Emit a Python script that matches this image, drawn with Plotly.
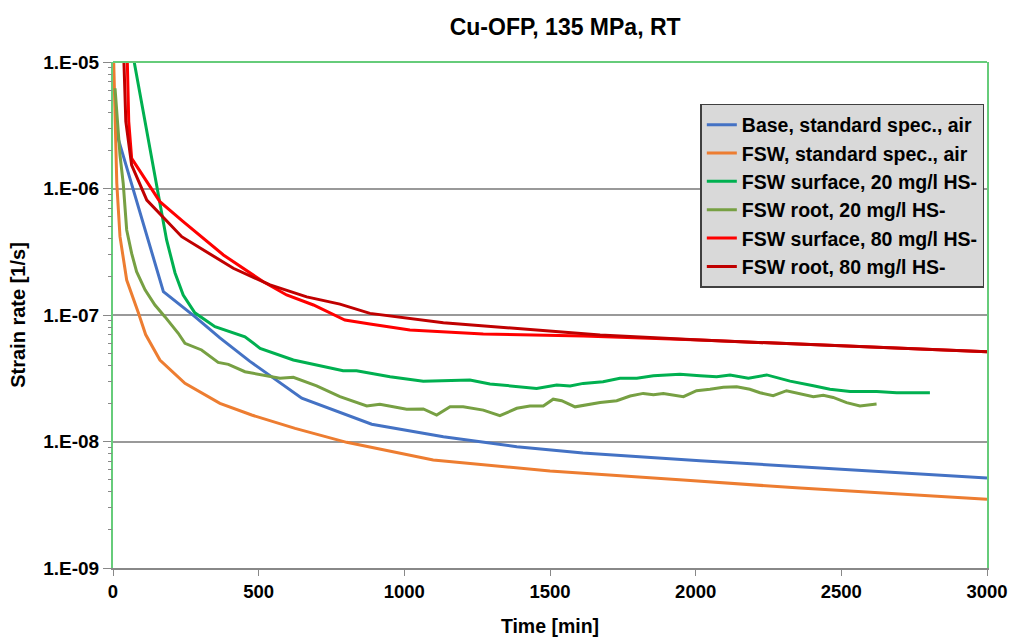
import plotly.graph_objects as go

# ---- data (time in min, strain rate in 1/s) ----
base_t = [13, 173, 281, 367, 470, 648, 888, 1134, 1386, 1613, 2015, 2500, 3000]
base_v = [2.7e-6, 1.53e-7, 9.7e-8, 6.6e-8, 4.3e-8, 2.2e-8, 1.37e-8, 1.09e-8, 9.1e-9, 8.1e-9, 7.05e-9, 6.0e-9, 5.15e-9]

fsw_t = [2, 9, 13, 24, 47, 87, 112, 161, 247, 367, 476, 625, 802, 1099, 1500, 1957, 2358, 3000]
fsw_v = [1.1e-5, 2.65e-6, 1.1e-6, 4.16e-7, 1.89e-7, 1.04e-7, 7.0e-8, 4.4e-8, 2.88e-8, 2.0e-8,
         1.62e-8, 1.27e-8, 9.85e-9, 7.15e-9, 5.85e-9, 4.96e-9, 4.28e-9, 3.49e-9]

surf20_t = [60, 150, 167, 184, 213, 241, 281, 350, 453, 505, 619, 790, 836, 951, 1065, 1225, 1294,
            1454, 1523, 1569, 1614, 1682, 1740, 1798, 1855, 1946, 2015, 2072, 2118, 2181, 2244,
            2324, 2404, 2461, 2530, 2621, 2690, 2804]
surf20_v = [1.45e-5, 1.10e-6, 6.4e-7, 3.92e-7, 2.15e-7, 1.44e-7, 1.04e-7, 8.08e-8, 6.73e-8, 5.45e-8,
            4.41e-8, 3.63e-8, 3.63e-8, 3.25e-8, 3.0e-8, 3.06e-8, 2.85e-8, 2.63e-8, 2.8e-8, 2.75e-8,
            2.88e-8, 2.97e-8, 3.16e-8, 3.16e-8, 3.31e-8, 3.4e-8, 3.31e-8, 3.25e-8, 3.36e-8, 3.16e-8,
            3.36e-8, 3.0e-8, 2.76e-8, 2.59e-8, 2.48e-8, 2.48e-8, 2.43e-8, 2.43e-8]

root20_t = [7, 24, 35, 47, 64, 81, 110, 144, 178, 224, 247, 304, 361, 396, 453, 510, 573, 619, 699,
            779, 871, 916, 1008, 1065, 1111, 1157, 1202, 1271, 1328, 1386, 1431, 1477, 1511, 1540,
            1586, 1672, 1729, 1775, 1820, 1855, 1889, 1958, 2003, 2049, 2095, 2141, 2186, 2221,
            2266, 2312, 2358, 2404, 2438, 2472, 2518, 2564, 2621]
root20_v = [6.2e-6, 1.84e-6, 1.10e-6, 4.7e-7, 3.07e-7, 2.2e-7, 1.58e-7, 1.2e-7, 9.7e-8, 7.17e-8,
            5.97e-8, 5.29e-8, 4.22e-8, 4.07e-8, 3.56e-8, 3.36e-8, 3.16e-8, 3.22e-8, 2.75e-8,
            2.26e-8, 1.91e-8, 1.97e-8, 1.80e-8, 1.81e-8, 1.62e-8, 1.88e-8, 1.88e-8, 1.77e-8,
            1.6e-8, 1.83e-8, 1.91e-8, 1.91e-8, 2.16e-8, 2.1e-8, 1.88e-8, 2.03e-8, 2.1e-8, 2.29e-8,
            2.4e-8, 2.34e-8, 2.4e-8, 2.26e-8, 2.52e-8, 2.59e-8, 2.68e-8, 2.71e-8, 2.59e-8, 2.43e-8,
            2.3e-8, 2.52e-8, 2.4e-8, 2.26e-8, 2.32e-8, 2.23e-8, 2.03e-8, 1.91e-8, 1.98e-8]

surf80_t = [48, 54, 64, 161, 241, 379, 516, 596, 688, 796, 882, 1019, 1271, 1614, 2015, 3000]
surf80_v = [1.3e-5, 3.4e-6, 1.73e-6, 7.87e-7, 5.47e-7, 2.98e-7, 1.83e-7, 1.44e-7, 1.2e-7, 9.12e-8,
            8.49e-8, 7.6e-8, 7.08e-8, 6.83e-8, 6.34e-8, 5.13e-8]

root80_t = [36, 44, 64, 116, 236, 413, 539, 665, 779, 882, 1134, 1386, 1672, 2015, 3000]
root80_v = [1.3e-5, 3.4e-6, 1.53e-6, 8.1e-7, 4.16e-7, 2.34e-7, 1.73e-7, 1.39e-7, 1.22e-7, 1.03e-7,
            8.7e-8, 7.85e-8, 6.95e-8, 6.34e-8, 5.13e-8]

series = [
    ("Base, standard spec., air", base_t, base_v, "#4472C4"),
    ("FSW, standard spec., air", fsw_t, fsw_v, "#ED7D31"),
    ("FSW surface, 20 mg/l HS-", surf20_t, surf20_v, "#00B050"),
    ("FSW root, 20 mg/l HS-", root20_t, root20_v, "#77A043"),
    ("FSW surface, 80 mg/l HS-", surf80_t, surf80_v, "#FF0000"),
    ("FSW root, 80 mg/l HS-", root80_t, root80_v, "#C00000"),
]

y_tickvals = [1e-9, 1e-8, 1e-7, 1e-6, 1e-5]
y_ticktext = ["1.E-09", "1.E-08", "1.E-07", "1.E-06", "1.E-05"]
y_minor = [m * 10.0 ** e for e in range(-9, -5) for m in range(2, 10)]
x_tickvals = [0, 500, 1000, 1500, 2000, 2500, 3000]

FONT = "Liberation Sans, Arial, sans-serif"

fig = go.Figure()
for name, t, v, c in series:
    fig.add_trace(go.Scatter(x=t, y=v, mode="lines", name=f"<b>{name}</b>",
                             line=dict(color=c, width=3)))

# invisible helper trace carrying the minor-tick axis
fig.add_trace(go.Scatter(x=base_t, y=base_v, yaxis="y2", mode="lines",
                         line=dict(width=0), opacity=0, showlegend=False,
                         hoverinfo="skip"))

fig.update_layout(
    width=1011, height=640,
    margin=dict(l=113, r=24, t=62, b=72, autoexpand=False),
    paper_bgcolor="white", plot_bgcolor="white",
    title=dict(text="<b>Cu-OFP, 135 MPa, RT</b>", x=0.559, xanchor="center",
               y=0.958, yanchor="middle",
               font=dict(family=FONT, size=23, color="black")),
    font=dict(family=FONT, color="black"),
    showlegend=True,
    legend=dict(x=0.672, y=0.917, xanchor="left", yanchor="top",
                bgcolor="#D9D9D9", bordercolor="#404040", borderwidth=1.5,
                font=dict(family=FONT, size=19.5, color="black"),
                itemwidth=30, tracegroupgap=0),
    yaxis2=dict(type="log", range=[-9, -5], overlaying="y", side="left",
                tickvals=y_minor, ticks="outside", ticklen=4, tickcolor="#888888",
                showticklabels=False, showgrid=False, showline=False, zeroline=False,
                automargin=False),
)

fig.update_xaxes(
    range=[0, 3000], tickvals=x_tickvals, ticktext=[f"<b>{v}</b>" for v in x_tickvals],
    tickfont=dict(size=18.5), ticks="outside", ticklen=6, tickcolor="#888888",
    showline=True, linecolor="#888888", linewidth=2, mirror=False,
    showgrid=False, zeroline=False, automargin=False,
    title=dict(text="<b>Time [min]</b>", font=dict(size=19.5), standoff=18),
)
fig.update_layout(yaxis=dict(
    type="log", range=[-9, -5], tickvals=y_tickvals,
    ticktext=[f"<b>{s}</b>" for s in y_ticktext],
    tickfont=dict(size=19), ticks="outside", ticklen=8, tickcolor="#888888",
    showline=True, linecolor="#66CC7A", linewidth=2, mirror=True,
    showgrid=True, gridcolor="#999999", gridwidth=1.5, zeroline=False,
    automargin=False,
    title=dict(text="<b>Strain rate [1/s]</b>", font=dict(size=20), standoff=12),
))

# green top border of the plot frame
fig.add_shape(type="line", xref="paper", yref="paper", x0=0, x1=1, y0=1, y1=1,
              line=dict(color="#66CC7A", width=2))

fig.write_html("out.html")
